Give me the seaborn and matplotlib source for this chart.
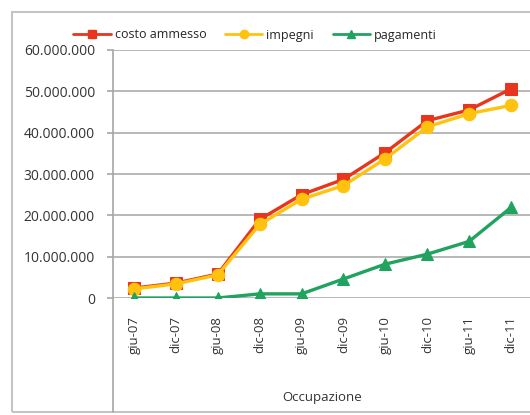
import pandas as pd
import matplotlib.pyplot as plt
import matplotlib.patches as mpatches
from matplotlib.lines import Line2D
from matplotlib.ticker import FuncFormatter
import seaborn as sns

# dati
periodi = ["giu-07", "dic-07", "giu-08", "dic-08", "giu-09",
           "dic-09", "giu-10", "dic-10", "giu-11", "dic-11"]
costo_ammesso = [2.4, 3.6, 5.8, 19.0, 25.0, 28.7, 35.2, 42.9, 45.5, 50.6]
impegni = [2.2, 3.4, 5.6, 17.8, 23.9, 27.2, 33.7, 41.4, 44.6, 46.6]
pagamenti = [0.0, 0.0, 0.0, 1.0, 1.0, 4.6, 8.2, 10.6, 13.7, 21.9]

serie = ["costo ammesso", "impegni", "pagamenti"]
colori = {"costo ammesso": "#E8361E", "impegni": "#FFC20E", "pagamenti": "#1FA35F"}
marker = {"costo ammesso": "s", "impegni": "o", "pagamenti": "^"}

df = pd.DataFrame({
    "pos": list(range(len(periodi))) * 3,
    "valore": [v * 1e6 for v in costo_ammesso + impegni + pagamenti],
    "serie": [s for s in serie for _ in periodi],
})

sns.set_style("white")
plt.rcParams['font.family'] = ['Open Sans', 'DejaVu Sans']

fig = plt.figure(figsize=(5.3, 4.15), dpi=100)
W, H = 530, 415
ax = fig.add_axes([113 / W, 1 - 298 / H, 419 / W, 248 / H])

# cornice esterna
fig.patches.append(mpatches.Rectangle((12 / W, 1 - 412 / H), 1.0, 400 / H,
                                      transform=fig.transFigure, fill=False,
                                      edgecolor="#c4c4c4", lw=1.5))
# asse verticale prolungato fino in fondo
fig.lines.append(Line2D([113 / W, 113 / W], [1 - 412 / H, 1 - 298 / H],
                        transform=fig.transFigure, color="#a6a6a6", lw=1.2))

for s in serie:
    sub = df[df["serie"] == s]
    sns.lineplot(data=sub, x="pos", y="valore", ax=ax, color=colori[s],
                 marker=marker[s], markersize=9, markeredgecolor=colori[s],
                 linewidth=2.4, label=s, legend=False)

ax.set_xlim(-0.5, len(periodi) - 0.5)
ax.set_ylim(0, 60e6)
ax.set_yticks(range(0, 60000001, 10000000))
ax.yaxis.set_major_formatter(FuncFormatter(lambda v, p: f"{int(v):,}".replace(",", ".")))
ax.grid(axis="y", color="#ababab", lw=1.2)
ax.set_axisbelow(True)
for sp in ["top", "right", "bottom"]:
    ax.spines[sp].set_visible(False)
ax.spines["left"].set_color("#a6a6a6")
ax.spines["left"].set_linewidth(1.2)

# etichette delle date ruotate, separatori tra le categorie
ax.set_xticks(range(len(periodi)))
ax.set_xticklabels(periodi, rotation=90, va="top")
ax.set_xticks([i - 0.5 for i in range(1, len(periodi) + 1)], minor=True)
ax.tick_params(axis="x", which="major", length=0, pad=13, labelsize=9.5, colors="#333333")
ax.tick_params(axis="x", which="minor", length=50, width=1.2, color="#bdbdbd", direction="out")
ax.tick_params(axis="y", length=4, width=1.2, color="#a6a6a6", pad=9, labelsize=10,
               labelcolor="#333333", left=True)

ax.set_xlabel("Occupazione", fontsize=9.5, color="#333333")
ax.xaxis.set_label_coords((322 - 113) / 419, -(391 - 298) / 248)
ax.set_ylabel("")

handles = [Line2D([], [], color=colori[s], marker=marker[s], markersize=6, lw=2) for s in serie]
fig.legend(handles, serie, loc="center", bbox_to_anchor=(255 / W, 1 - 35 / H), ncol=3,
           frameon=False, fontsize=9, handlelength=3.0, columnspacing=1.5, handletextpad=0.3)

plt.savefig("out.png", dpi=100)
